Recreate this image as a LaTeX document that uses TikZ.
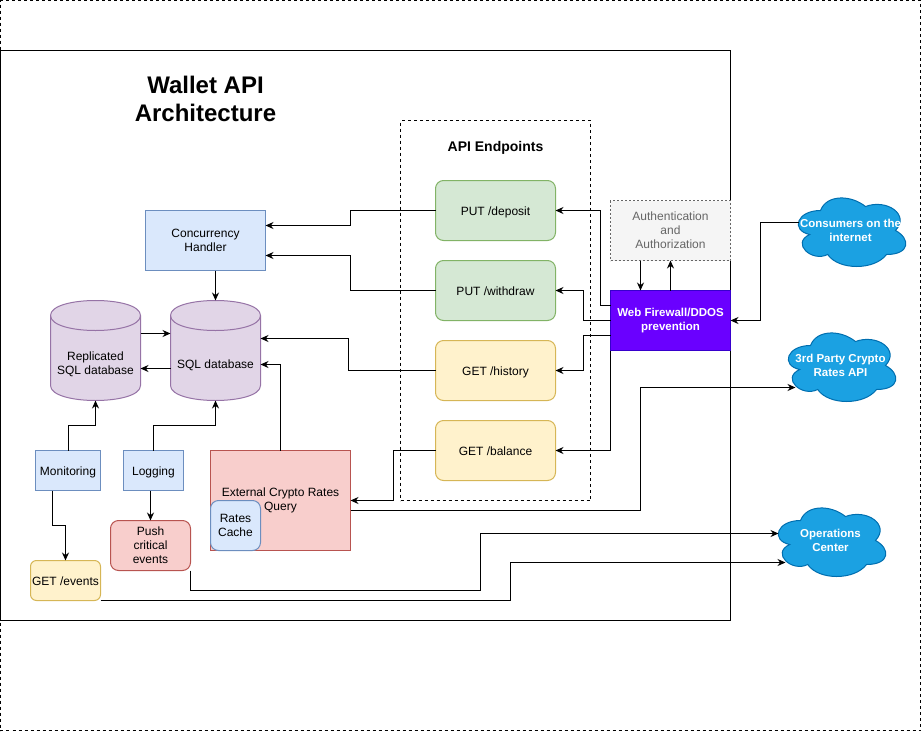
\documentclass[tikz,border=0pt]{standalone}
\usepackage{fontspec}
\setmainfont{Liberation Sans}
\usetikzlibrary{positioning,arrows.meta}

\definecolor{greenfill}{HTML}{D5E8D4}
\definecolor{greenline}{HTML}{82B366}
\definecolor{yellowfill}{HTML}{FFF2CC}
\definecolor{yellowline}{HTML}{D6B656}
\definecolor{bluefill}{HTML}{DAE8FC}
\definecolor{blueline}{HTML}{6C8EBF}
\definecolor{purplefill}{HTML}{E1D5E7}
\definecolor{purpleline}{HTML}{9673A6}
\definecolor{redfill}{HTML}{F8CECC}
\definecolor{redline}{HTML}{B85450}
\definecolor{grayfill}{HTML}{F5F5F5}
\definecolor{grayline}{HTML}{666666}
\definecolor{wallfill}{HTML}{6A00FF}
\definecolor{wallline}{HTML}{3700CC}
\definecolor{cloudfill}{HTML}{1BA1E2}
\definecolor{cloudline}{HTML}{006EAF}

% cloud outline round a named node: name, centre, text
\newcommand{\cloudnode}[3]{
	\begin{scope}[shift={(#2)},x=1.2pt,y=-0.8pt]
	\draw[fill=cloudfill,draw=cloudline] (-25,-25)
		.. controls (-45,-25) and (-50,0) .. (-34,5)
		.. controls (-50,16) and (-32,40) .. (-19,30)
		.. controls (-10,50) and (20,50) .. (30,30)
		.. controls (50,30) and (50,10) .. (37.5,0)
		.. controls (50,-20) and (30,-40) .. (12.5,-30)
		.. controls (0,-45) and (-20,-45) .. (-25,-25) -- cycle;
	\end{scope}
	\node[cloudstyle] (#1) at (#2) {#3};
}

% cylinder outline behind a named node: name, centre
\newcommand{\dbnode}[2]{
	\begin{scope}[shift={(#2)}]
	\draw[fill=purplefill,draw=purpleline] (-45,-35)
		.. controls (-45,-55) and (45,-55) .. (45,-35) -- (45,35)
		.. controls (45,55) and (-45,55) .. (-45,35) -- cycle;
	\draw[draw=purpleline] (-45,-35) .. controls (-45,-15) and (45,-15) .. (45,-35);
	\end{scope}
	\node[minimum width=90pt, minimum height=100pt] (#1) at (#2) {};
}

\begin{document}
\begin{tikzpicture}[
	x=1pt, y=-1pt, >={Stealth[length=8pt,width=7pt]},
	every node/.style={font=\fontsize{12}{14}\selectfont, align=center, inner sep=0pt, outer sep=0pt},
	every path/.style={line width=1pt},
	oneline/.style={text height=12pt, text depth=2pt},
	greenbox/.style={rectangle, oneline, rounded corners=8pt, fill=greenfill, draw=greenline, minimum width=120pt, minimum height=60pt},
	yellowbox/.style={rectangle, oneline, rounded corners=8pt, fill=yellowfill, draw=yellowline, minimum width=120pt, minimum height=60pt},
	bluebox/.style={rectangle, fill=bluefill, draw=blueline},
	redbox/.style={rectangle, fill=redfill, draw=redline},
	cloudstyle/.style={rectangle, minimum width=120pt, minimum height=80pt, text=white, font=\fontsize{11.5}{14}\selectfont\bfseries},
	]
	\useasboundingbox (-0.5,-0.5) rectangle (920.5,730.5);
	
	\node[draw, dashed, minimum width=920pt, minimum height=730pt] (page) at (460,365) {};
	\node[draw, minimum width=730pt, minimum height=570pt] (frame) at (365,335) {};
	\node[draw, dashed, minimum width=190pt, minimum height=380pt] (apibox) at (495,310) {};
	
	\node[font=\fontsize{24}{28}\selectfont\bfseries] (title) at (205,98) {Wallet API\\Architecture};
	\node[oneline, font=\fontsize{14}{16}\selectfont\bfseries] (apititle) at (495,146) {API Endpoints};
	
	\node[greenbox] (deposit) at (495,210) {PUT /deposit};
	\node[greenbox] (withdraw) [below=20pt of deposit] {PUT /withdraw};
	\node[yellowbox] (history) [below=20pt of withdraw] {GET /history};
	\node[yellowbox] (balance) [below=20pt of history] {GET /balance};
	
	\node[bluebox, minimum width=120pt, minimum height=60pt] (conc) at (205,240) {Concurrency\\Handler};
	\dbnode{sql}{215,350}
	\dbnode{replica}{95,350}
	\node[oneline] (sqltext) at (215,363) {SQL database};
	\node (replicatext) at (95,364) {Replicated\\SQL database};
	
	\node[bluebox, oneline, minimum width=65pt, minimum height=40pt] (monitor) at (67.5,470) {Monitoring};
	\node[bluebox, oneline, minimum width=60pt, minimum height=40pt] (logging) at (153,470) {Logging};
	\node[redbox, minimum width=140pt, minimum height=100pt] (external) at (280,500) {External Crypto Rates\\Query};
	\node[bluebox, rounded corners=8pt, minimum width=50pt, minimum height=50pt] (cache) at (235,525) {Rates\\Cache};
	\node[redbox, rounded corners=8pt, minimum width=80pt, minimum height=50pt] (push) at (150,545) {Push\\critical\\events};
	\node[rectangle, oneline, rounded corners=6pt, fill=yellowfill, draw=yellowline, minimum width=70pt, minimum height=40pt] (events) at (65,580) {GET /events};
	
	\node[draw=grayline, fill=grayfill, dash pattern=on 2pt off 2pt, text=grayline, minimum width=120pt, minimum height=60pt] (auth) at (670,230) {Authentication\\and\\Authorization};
	\node[draw=wallline, fill=wallfill, text=white, font=\fontsize{11.5}{14}\selectfont\bfseries, minimum width=120pt, minimum height=60pt] (wall) at (670,320) {Web Firewall/DDOS\\prevention};
	
	\cloudnode{consumers}{850,230}{Consumers on the\\internet}
	\cloudnode{rates}{840,365}{3rd Party Crypto\\Rates API}
	\cloudnode{ops}{830,540}{Operations\\Center}
	
	\draw[->] (deposit.west) -- ++(-85,0) |- ([yshift=15pt]conc.east);
	\draw[->] (withdraw.west) -- ++(-85,0) |- ([yshift=-15pt]conc.east);
	\draw[->] (history.west) -- ++(-87,0) |- ([yshift=12pt]sql.east);
	\draw[->] (balance.west) -- ++(-42,0) |- (external.east);
	\draw[->] (external.north) |- ([yshift=-14pt]sql.east);
	\draw[->] ([yshift=-10pt]external.east) -- ++(290,0) |- ([xshift=15pt,yshift=-22pt]rates.west);
	
	\draw[->] (conc.south -| sql.north) -- (sql.north);
	\draw[->] ([yshift=17pt]replica.east) -- ([yshift=17pt]sql.west);
	\draw[->] ([yshift=-18pt]sql.west) -- ([yshift=-18pt]replica.east);
	\draw[->] (monitor.north) -- ++(0,-25) -| (replica.south);
	\draw[->] (logging.north) -- ++(0,-25) -| (sql.south);
	\draw[->] ([xshift=-16pt]monitor.south) -- ++(0,35) -| (events.north);
	\draw[->] (logging.south -| push.north) -- (push.north);
	\draw[->] (push.south east) -- ++(0,20) -- ++(290,0) |- ([xshift=8pt,yshift=7pt]ops.west);
	\draw[->] (events.south east) -- ++(410,0) |- ([xshift=15pt,yshift=-22pt]ops.west);
	
	\draw[->] ([yshift=15pt]wall.west) -- ++(-10,0) |- (deposit.east);
	\draw[->] (wall.west) -- ++(-27,0) |- (withdraw.east);
	\draw[->] ([yshift=-15pt]wall.west) -- ++(-27,0) |- (history.east);
	\draw[->] (wall.south west) |- (balance.east);
	\draw[->] (auth.south -| 640,0) -- (wall.north -| 640,0);
	\draw[->] (wall.north) -- (auth.south);
	\draw[->] ([xshift=8pt,yshift=8pt]consumers.west) -- ++(-38,0) |- (wall.east);
\end{tikzpicture}
\end{document}
